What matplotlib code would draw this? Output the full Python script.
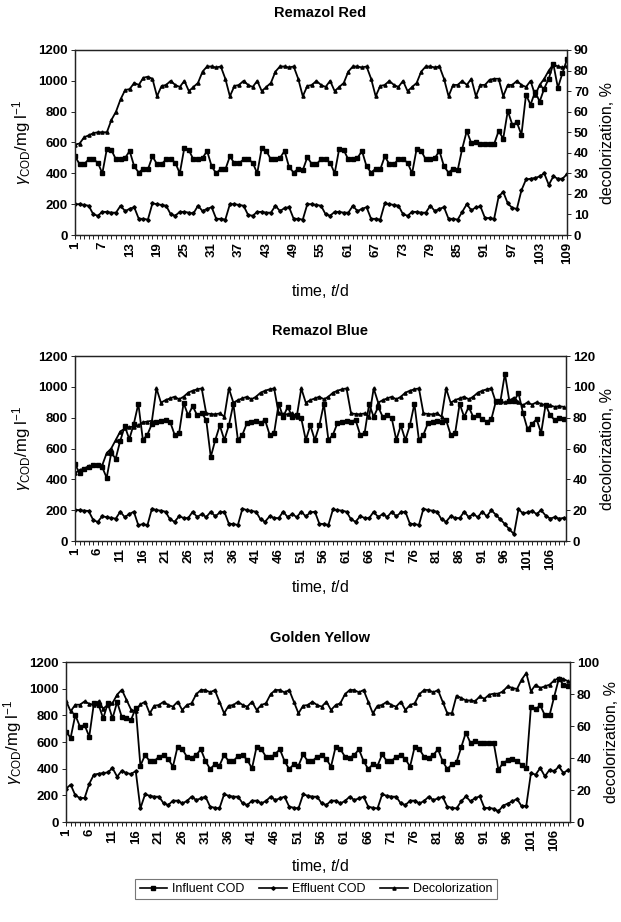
import matplotlib
matplotlib.use('Agg')
import matplotlib.pyplot as plt
from matplotlib.lines import Line2D

plt.rcParams['font.family'] = ['Liberation Sans', 'DejaVu Sans']
plt.rcParams['mathtext.fontset'] = 'custom'
plt.rcParams['mathtext.rm'] = 'Liberation Sans'
plt.rcParams['mathtext.it'] = 'Liberation Sans:italic'
plt.rcParams['mathtext.bf'] = 'Liberation Sans:bold'

# ---------------- data ----------------
days = list(range(1, 110))

# Remazol Red
red_influent = [510, 460, 460, 490, 490, 470, 400,
                560, 550, 490, 490, 500, 545, 445, 405, 430, 425, 510, 460, 460, 490, 490, 470, 400,
                565, 550, 490, 490, 500, 545, 445, 400, 430, 425, 510, 465, 465, 490, 490, 470, 400,
                565, 545, 490, 490, 500, 545, 440, 405, 430, 420, 505, 460, 460, 490, 490, 470, 400,
                560, 550, 490, 490, 500, 545, 445, 405, 430, 425, 510, 460, 460, 490, 490, 470, 400,
                560, 545, 490, 490, 500, 545, 445, 405, 430, 420,
                560, 675, 595, 605, 590, 590, 590, 590, 675, 625, 805, 715, 730, 650, 910, 845,
                930, 865, 950, 1015, 1110, 955, 1050, 1140]
red_effluent = [200, 200, 195, 190, 135, 125, 150, 150, 145, 145, 190, 155, 170, 180, 105, 105, 100,
                205, 200, 195, 190, 135, 125, 150, 150, 145, 140, 190, 155, 170, 180, 105, 105, 100,
                200, 200, 195, 190, 130, 125, 150, 150, 145, 145, 190, 155, 175, 180, 105, 105, 100,
                200, 200, 195, 190, 135, 125, 150, 150, 145, 145, 190, 155, 170, 180, 105, 105, 100,
                205, 200, 195, 190, 135, 125, 150, 150, 145, 145, 190, 155, 170, 180, 105, 105, 100,
                150, 200, 160, 180, 185, 110, 110, 105, 250, 280, 205, 175, 170, 290, 360, 365,
                370, 380, 400, 325, 380, 365, 365, 395]
red_decol = [44, 44.5, 47.5, 48.5, 49.5, 50, 50, 50, 56, 60, 66, 70.5, 71, 74, 73, 76.5, 77, 76,
             67.5, 72.5, 73, 75, 73, 72, 75, 70, 72, 74, 79.5, 82, 82, 81.5, 82, 76,
             67.5, 72.5, 73, 75, 73, 72, 75, 70, 72, 74, 79.5, 82, 82, 81.5, 82, 76,
             67.5, 72.5, 73, 75, 73, 72, 75, 70, 72, 74, 79.5, 82, 82, 81.5, 82, 76,
             67.5, 72.5, 73, 75, 73, 72, 75, 70, 72, 74, 79.5, 82, 82, 81.5, 82, 76,
             67.5, 73, 73, 75, 73, 76, 67.5, 73, 73, 75.5, 76, 76, 67.5, 73, 73, 75,
             73, 72, 75, 68, 73, 76, 80, 83, 82, 81.5, 82]

# Remazol Blue
blue_influent = [500, 440, 465, 480, 490, 490, 480, 410,
                 570, 535, 650, 745, 660, 760, 890, 655, 690, 760, 775, 780, 785, 775, 690, 700,
                 895, 815, 875, 815, 830, 785, 545, 655, 750, 655, 750, 890, 655, 690, 765, 775,
                 780, 765, 785, 690, 700, 890, 805, 870, 805, 815, 795, 655, 750, 655, 750, 890, 655,
                 690, 765, 775, 780, 775, 785, 690, 700, 890, 805, 870, 805, 815, 795, 655, 750,
                 655, 750, 890, 655, 690, 765, 775, 780, 775, 785, 690, 700,
                 890, 805, 870, 805, 815, 790, 775, 790, 905, 905,
                 1085, 905, 905, 960, 830, 725, 760, 790, 700, 885, 815, 785, 795, 790]
blue_effluent = [203, 200, 197, 195, 138, 123, 160, 155, 150, 145, 190, 155, 175, 190, 102, 110, 102,
                 210, 200, 197, 190, 140, 125, 160, 150, 148, 190, 155, 175, 155, 190, 160, 185, 190, 112, 110, 104,
                 210, 200, 195, 190, 140, 125, 160, 150, 148, 190, 155, 175, 155, 190, 160, 185, 190, 112, 110, 104,
                 205, 200, 197, 190, 140, 125, 160, 150, 148, 190, 155, 175, 155, 190, 160, 185, 190, 112, 110, 104,
                 210, 200, 197, 190, 140, 125, 160, 150, 148, 190, 155, 175, 155, 190,
                 160, 200, 170, 140, 110, 75, 45,
                 205, 180, 185, 195, 175, 200, 165, 145, 155, 145, 150]
blue_decol = [44, 46, 47, 48.5, 49, 49, 49, 57, 60, 65.5, 71, 73, 74, 74, 75, 77, 77.5, 78,
              99, 89.7, 91.4, 92.5, 93.6, 91.9, 93.6, 96.2, 97.5, 98.4, 99, 82.8, 82.4, 82.2, 82.8, 80.6,
              99, 89.7, 91.4, 92.5, 93.6, 91.9, 93.6, 96.2, 97.5, 98.4, 99, 82.8, 82.4, 82.2, 82.8, 80.6,
              99, 89.7, 91.4, 92.5, 93.6, 91.9, 93.6, 96.2, 97.5, 98.4, 99, 82.8, 82.4, 82.2, 82.8, 80.6,
              99, 89.7, 91.4, 92.5, 93.6, 91.9, 93.6, 96.2, 97.5, 98.4, 99, 82.8, 82.4, 82.2, 82.8, 80.6,
              99, 89.7, 91.4, 92.5, 93.6, 91.9, 93.6, 96.2, 97.5, 98.4, 99,
              90, 90, 90, 91, 93, 90, 88, 90, 88.5, 90, 89, 88, 88, 87, 87.5, 87]

# Golden Yellow
yellow_influent = [677, 632, 802, 715, 727, 640, 890, 880, 777, 890, 777, 900, 787, 780, 767, 855,
                   422,
                   502, 457, 457, 490, 502, 472, 415, 565, 547, 490, 482, 502, 545, 457, 397, 432, 422,
                   502, 457, 457, 495, 502, 465, 402, 565, 547, 490, 485, 510, 545, 457, 397, 432, 422,
                   507, 457, 457, 490, 502, 472, 415, 565, 547, 490, 482, 502, 545, 457, 397, 432, 422,
                   507, 457, 457, 490, 502, 472, 415, 565, 547, 490, 482, 502, 545, 457, 397, 432, 450,
                   560, 670, 592, 605, 592, 592, 592, 592, 392, 442, 462, 472, 455, 430, 405,
                   865, 845, 875, 800, 800, 940, 1075, 1030, 1020]
yellow_effluent = [250, 280, 200, 180, 180, 287, 355, 362, 367, 372, 405, 340, 385, 367, 360, 382,
                   102,
                   207, 197, 190, 190, 140, 127, 160, 160, 140, 157, 190, 165, 177, 190, 115, 107, 102,
                   207, 197, 190, 190, 140, 127, 160, 160, 140, 157, 190, 165, 177, 190, 115, 107, 102,
                   207, 197, 190, 190, 140, 127, 160, 160, 140, 157, 190, 165, 177, 190, 115, 107, 102,
                   207, 197, 190, 190, 140, 127, 160, 160, 140, 157, 190, 165, 177, 190, 115, 107, 102,
                   155, 192, 155, 180, 192, 105, 105, 100, 80, 122, 138, 155, 173, 118, 122,
                   367, 355, 405, 342, 392, 380, 417, 367, 392]
yellow_decol = [75.8, 69.2, 73.3, 73.3, 75.4, 73.9, 73.3, 75.4, 70.8, 73.3, 74.3, 79.6, 82.7, 76.4, 70.2, 69.2,
                73.5, 75.2,
                67.9, 72.7, 73.1, 75.2, 73.1, 72.1, 75.2, 70.0, 73.1, 74.2, 79.8, 82.5, 82.5, 81.0, 82.5, 75.2,
                67.9, 72.7, 73.1, 75.2, 73.1, 72.1, 75.2, 70.0, 73.1, 74.2, 79.8, 82.5, 82.5, 81.0, 82.5, 75.2,
                67.9, 72.7, 73.1, 75.2, 73.1, 72.1, 75.2, 70.0, 73.1, 74.2, 79.8, 82.5, 82.5, 81.0, 82.5, 75.2,
                67.9, 72.7, 73.1, 75.2, 73.1, 72.1, 75.2, 70.0, 73.1, 74.2, 79.8, 82.5, 82.5, 81.0, 82.5, 75.2,
                68, 68, 79, 77.5, 76, 76, 75.5, 78.5, 77, 79.6, 80.2, 80.2, 81.7, 84.8, 83.8, 83.1,
                89, 93.1, 81.7, 85.8, 83.8, 84.8, 85.8, 88.5, 90, 89.4, 87.9]

W, H = 621, 922
fig = plt.figure(figsize=(W / 100, H / 100), dpi=100)


def px_rect(left, right, top, bottom):
    return [left / W, 1 - bottom / H, (right - left) / W, (bottom - top) / H]


def draw_panel(rect, title, title_y, xlab_y, infl, effl, decol, r_max, r_step, lab_step, x_max):
    ax = fig.add_axes(rect)
    ax2 = ax.twinx()
    ax.plot(days, infl, color='black', lw=1.3, marker='s', ms=3.0, zorder=3)
    ax.plot(days, effl, color='black', lw=1.3, marker='D', ms=1.8, zorder=3)
    ax2.plot(days, decol, color='black', lw=1.3, marker='^', ms=2.3)

    ax.set_xlim(1, x_max)
    ax.set_ylim(0, 1200)
    ax.set_yticks(range(0, 1201, 200))
    ax2.set_ylim(0, r_max)
    ax2.set_yticks(range(0, r_max + 1, r_step))
    ax.set_xticks(days)
    ax.set_xticklabels([str(d) if (d - 1) % lab_step == 0 else '' for d in days], rotation=90)

    for a in (ax, ax2):
        for s in a.spines.values():
            s.set_linewidth(0.9)
            s.set_color('#222222')
        a.tick_params(labelsize=9.5, length=3, width=0.6, pad=2)
        for lbl in a.get_xticklabels() + a.get_yticklabels():
            lbl.set_fontweight('bold')

    # titles and axis labels placed in pixel coordinates
    x0 = rect[0] * W
    x1 = (rect[0] + rect[2]) * W
    yc = H - (rect[1] + rect[3] / 2) * H
    fig.text(0.515, 1 - title_y / H, title, ha='center', va='center',
             fontsize=10.5, fontweight='bold')
    fig.text(0.515, 1 - xlab_y / H, 'time, $t$/d', ha='center', va='center', fontsize=11.5)
    fig.text((x0 - 53) / W, 1 - yc / H, r'$\gamma_{\mathrm{COD}}$/mg l$^{-1}$',
             rotation=90, ha='center', va='center', fontsize=12)
    fig.text((x1 + 41) / W, 1 - yc / H, 'decolorization, %',
             rotation=90, ha='center', va='center', fontsize=11.5)
    return ax


draw_panel(px_rect(75, 567, 50, 235), 'Remazol Red', 13, 291,
           red_influent, red_effluent, red_decol, 90, 10, 6, 109)
draw_panel(px_rect(75, 566, 356, 541), 'Remazol Blue', 331, 587,
           blue_influent, blue_effluent, blue_decol, 120, 20, 5, 109.5)
draw_panel(px_rect(66, 570, 662, 822), 'Golden Yellow', 638, 866,
           yellow_influent, yellow_effluent, yellow_decol, 100, 20, 5, 109.4)

handles = [Line2D([], [], color='black', lw=1.2, marker='s', ms=3),
           Line2D([], [], color='black', lw=1.2, marker='D', ms=1.8),
           Line2D([], [], color='black', lw=1.2, marker='^', ms=2.3)]
leg = fig.legend(handles, ['Influent COD', 'Effluent COD', 'Decolorization'],
                 loc='center', bbox_to_anchor=(316 / W, 1 - 889 / H), ncol=3,
                 fontsize=9, frameon=True, fancybox=False, handlelength=2.2,
                 columnspacing=1.2, handletextpad=0.4, borderpad=0.35)
leg.get_frame().set_edgecolor('#555555')
leg.get_frame().set_linewidth(0.8)

fig.savefig('out.png', dpi=100)
